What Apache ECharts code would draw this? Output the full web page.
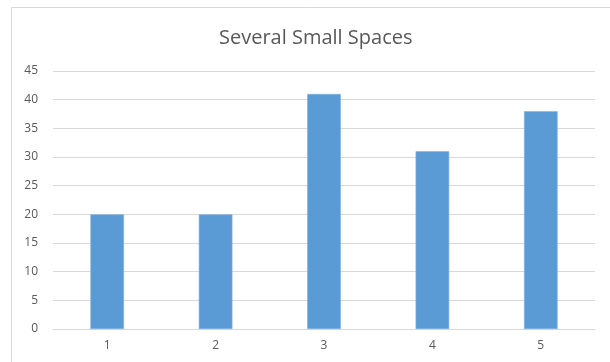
<!DOCTYPE html>
<html>
<head>
<meta charset="utf-8">
<script src="https://cdn.jsdelivr.net/npm/echarts@6/dist/echarts.min.js"></script>
<style>
  html, body { margin: 0; padding: 0; background: #fff; }
  #chart { width: 610px; height: 362px; }
</style>
</head>
<body>
<div id="chart"></div>
<script>
const chartTitle = 'Several Small Spaces';
const categories = ['1', '2', '3', '4', '5'];
const values = [20, 20, 41, 31, 38];
const yTicks = { min: 0, max: 45, interval: 5 };

const chart = echarts.init(document.getElementById('chart'), null, { renderer: 'canvas' });
const textColor = '#595959';
const font = '"Open Sans", "Noto Sans", sans-serif';

chart.setOption({
  animation: false,
  backgroundColor: '#ffffff',
  title: {
    text: chartTitle,
    left: 214,
    top: 23,
    textStyle: { color: textColor, fontSize: 20, fontWeight: 'normal', fontFamily: font }
  },
  graphic: [{
    type: 'rect',
    shape: { x: 11.5, y: 7.5, width: 620, height: 380 },
    style: { fill: 'none', stroke: '#d9d9d9', lineWidth: 1 },
    silent: true
  }],
  grid: { left: 53, right: 15, top: 71, bottom: 33, containLabel: false },
  xAxis: {
    type: 'category',
    data: categories,
    axisLine: { show: true, lineStyle: { color: '#d9d9d9' } },
    axisTick: { show: false },
    axisLabel: { color: textColor, fontSize: 12, fontFamily: font, margin: 11 }
  },
  yAxis: {
    type: 'value',
    min: yTicks.min,
    max: yTicks.max,
    interval: yTicks.interval,
    axisLine: { show: false },
    axisTick: { show: false },
    splitLine: { lineStyle: { color: '#d9d9d9' } },
    axisLabel: { color: textColor, fontSize: 12, fontFamily: font, margin: 15 }
  },
  series: [{
    type: 'bar',
    data: values,
    barWidth: '31%',
    itemStyle: { color: '#5b9bd5', borderColor: '#7fb0e0', borderWidth: 0.6 }
  }]
});
</script>
</body>
</html>
